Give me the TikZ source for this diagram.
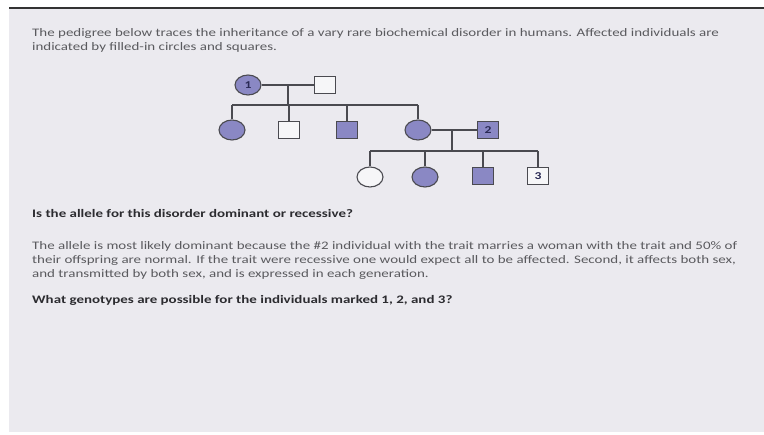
\documentclass[tikz,border=0pt]{standalone}
\usepackage{fontspec}
\setmainfont{Carlito}[FakeStretch=1.3]
\usetikzlibrary{shapes.geometric}

\definecolor{slidebg}{HTML}{EBEAEF}
\definecolor{affected}{RGB}{138,136,196}
\definecolor{pedline}{HTML}{4A4A50}
\definecolor{bodytext}{HTML}{5A5A5E}
\definecolor{headtext}{HTML}{2C2C30}
\definecolor{idnum}{HTML}{2A2A55}

\tikzset{
  ind/.style={draw=pedline, line width=1.1bp, inner sep=0pt, font=\bfseries\fontsize{10.5bp}{10.5bp}\selectfont, text=idnum},
  female/.style={ind, ellipse, minimum width=26bp, minimum height=20bp},
  male/.style={ind, rectangle, minimum width=21bp, minimum height=17bp},
  aff/.style={fill=affected},
  unaff/.style={fill=white!55!slidebg},
  link/.style={draw=pedline, line width=1.3bp},
  bodyline/.style={anchor=base west, inner sep=0pt, text=bodytext, font=\fontsize{11.5bp}{14bp}\selectfont},
  headline/.style={anchor=base west, inner sep=0pt, text=headtext, font=\bfseries\fontsize{11.5bp}{14bp}\selectfont}
}

\begin{document}
\begin{tikzpicture}[x=1bp, y=-1bp]
  \useasboundingbox (0,0) rectangle (764,435);
  % page and slide area
  \fill[white] (0,0) rectangle (764,435);
  \fill[slidebg] (9,9) rectangle (764,432);
  \draw[line width=1.5bp, black!80] (9,8) -- (764,8);

  % introductory text
  \node[bodyline] (intro1) at (32,37) {The pedigree below traces the inheritance of a vary rare biochemical disorder in humans. Affected individuals are};
  \node[bodyline] (intro2) at (32,50.5) {indicated by filled-in circles and squares.};

  % generation I
  \node[female, aff] (g1f) at (248,85) {1};
  \node[male, unaff] (g1m) at (325,85) {};
  \coordinate (m1) at (288,85);
  \coordinate (bar1L) at (232,105);
  \coordinate (bar1R) at (418,105);

  % generation II
  \node[female, aff] (g2a) at (232,130) {};
  \node[male, unaff] (g2b) at (289,130) {};
  \node[male, aff] (g2c) at (347,130) {};
  \node[female, aff] (g2d) at (418,130) {};
  \node[male, aff] (g2e) at (488,130) {2};
  \coordinate (m2) at (452,130);
  \coordinate (bar2L) at (370,151);
  \coordinate (bar2R) at (538,151);

  % generation III
  \node[female, unaff] (g3a) at (370,177) {};
  \node[female, aff] (g3b) at (425,177) {};
  \node[male, aff] (g3c) at (483,176) {};
  \node[male, unaff] (g3d) at (538,176) {3};

  % matings and descent lines
  \draw[link] (g1f) -- (g1m);
  \draw[link] (m1) -- (m1 |- bar1L);
  \draw[link] (bar1L) -- (bar1R);
  \foreach \k in {g2a,g2b,g2c,g2d}
    \draw[link] (\k.north) -- (\k.north |- bar1L);

  \draw[link] (g2d) -- (g2e);
  \draw[link] (m2) -- (m2 |- bar2L);
  \draw[link] (bar2L) -- (bar2R);
  \foreach \k in {g3a,g3b,g3c,g3d}
    \draw[link] (\k.north) -- (\k.north |- bar2L);

  % question and answer
  \node[headline] (q1) at (32,218) {Is the allele for this disorder dominant or recessive?};
  \node[bodyline] (a1) at (32,249.5) {The allele is most likely dominant because the \#2 individual with the trait marries a woman with the trait and 50\% of};
  \node[bodyline] (a2) at (32,263.5) {their offspring are normal. If the trait were recessive one would expect all to be affected. Second, it affects both sex,};
  \node[bodyline] (a3) at (32,277.5) {and transmitted by both sex, and is expressed in each generation.};
  \node[headline] (q2) at (32,303.5) {What genotypes are possible for the individuals marked 1, 2, and 3?};
\end{tikzpicture}
\end{document}
